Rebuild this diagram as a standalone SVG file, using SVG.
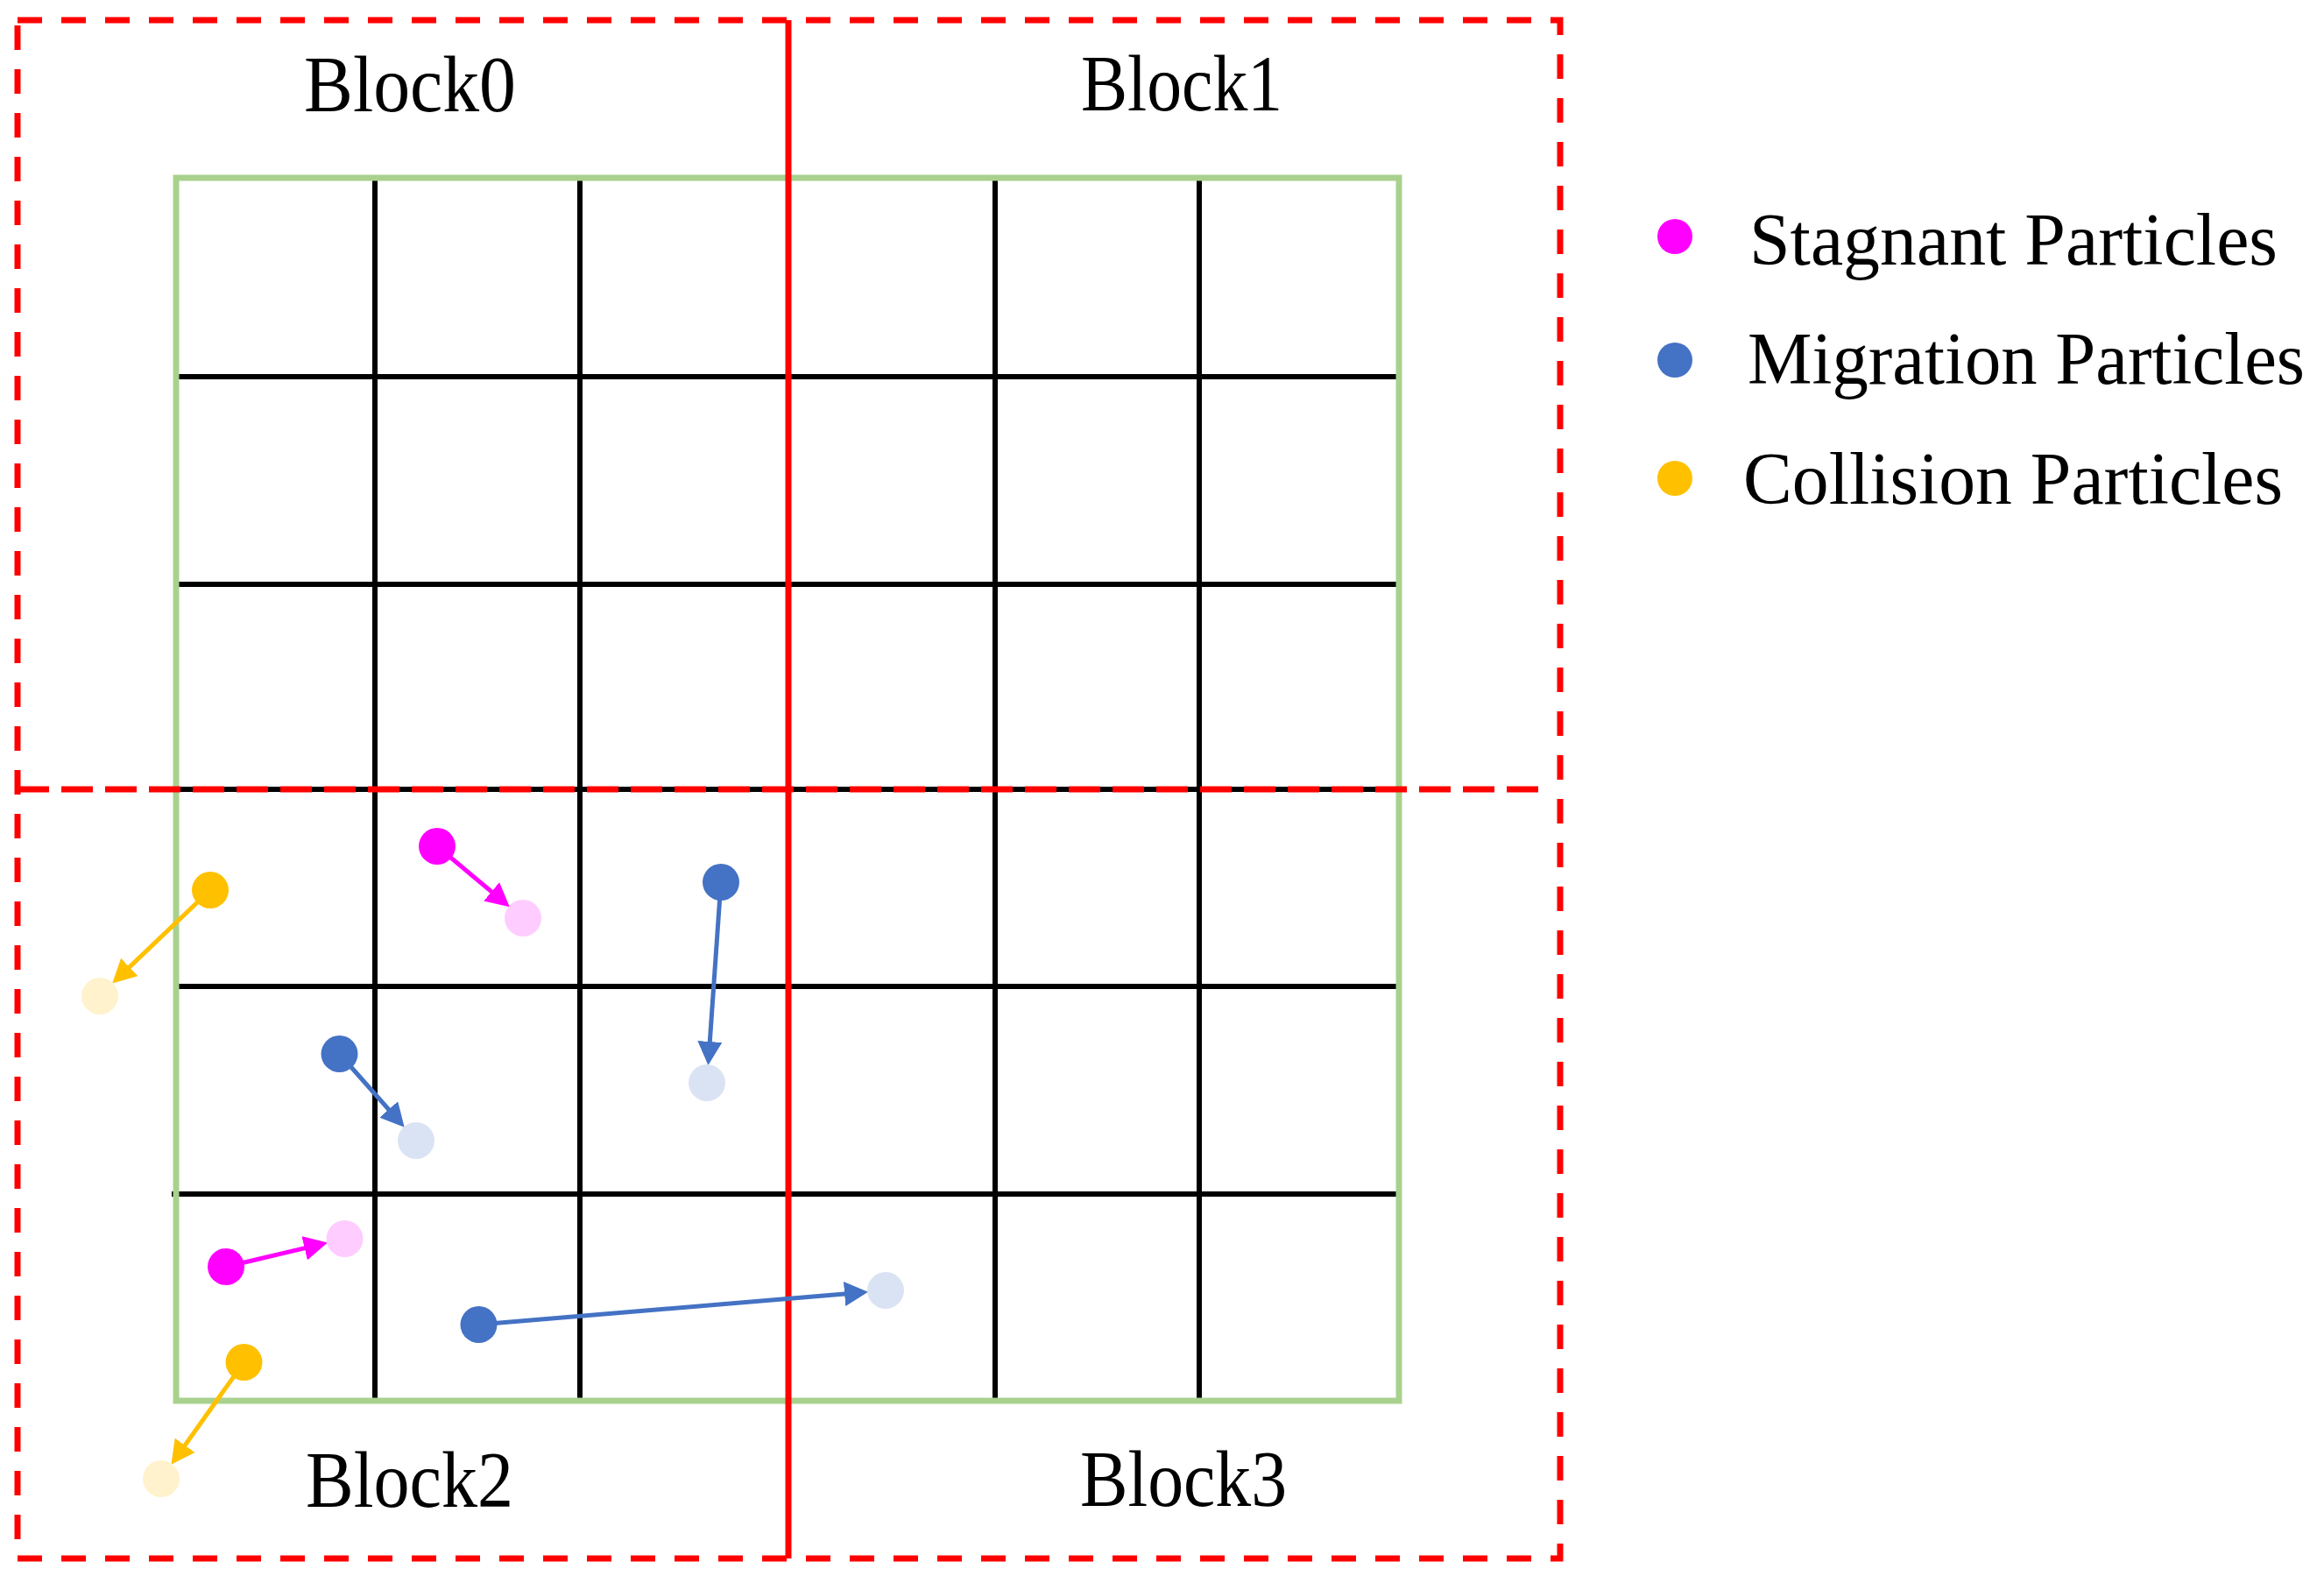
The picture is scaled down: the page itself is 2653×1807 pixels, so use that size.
<svg xmlns="http://www.w3.org/2000/svg" width="2653" height="1807" viewBox="0 0 2653 1807">
<style>
.grid{stroke:#000;stroke-width:6;fill:none}
.green{stroke:#A9D18E;stroke-width:7;fill:none}
.redsolid{stroke:#FF0000;stroke-width:7;fill:none}
.reddash{stroke:#FF0000;stroke-width:7;fill:none;stroke-dasharray:28 22}
.middash{stroke:#FF0000;stroke-width:7;fill:none;stroke-dasharray:36 14}
.lbl{font-family:"Liberation Serif","Times New Roman",serif;font-size:90px;fill:#000}
.leg{font-family:"Liberation Serif","Times New Roman",serif;font-size:84px;fill:#000}
.mag{fill:#FF00FF}.magl{fill:#FFCCFF}
.blu{fill:#4472C4}.blul{fill:#DAE3F3}
.yel{fill:#FFC000}.yell{fill:#FFF2CC}
.arr{stroke-width:5;fill:none}
</style>
<defs>
<marker id="amag" markerUnits="userSpaceOnUse" markerWidth="28" markerHeight="28" refX="6" refY="14" orient="auto"><path d="M0,0 L27,14 L0,28 Z" fill="#FF00FF"/></marker>
<marker id="ablu" markerUnits="userSpaceOnUse" markerWidth="28" markerHeight="28" refX="6" refY="14" orient="auto"><path d="M0,0 L27,14 L0,28 Z" fill="#4472C4"/></marker>
<marker id="ayel" markerUnits="userSpaceOnUse" markerWidth="28" markerHeight="28" refX="6" refY="14" orient="auto"><path d="M0,0 L27,14 L0,28 Z" fill="#FFC000"/></marker>
</defs>
<rect width="2653" height="1807" fill="#fff"/>
<g id="grid">
<line class="grid" x1="428" y1="203" x2="428" y2="1599"/>
<line class="grid" x1="662" y1="203" x2="662" y2="1599"/>
<line class="grid" x1="1136" y1="203" x2="1136" y2="1599"/>
<line class="grid" x1="1369" y1="203" x2="1369" y2="1599"/>
<line class="grid" x1="201" y1="430" x2="1597" y2="430"/>
<line class="grid" x1="201" y1="667" x2="1597" y2="667"/>
<line class="grid" x1="201" y1="901" x2="1597" y2="901"/>
<line class="grid" x1="201" y1="1126" x2="1597" y2="1126"/>
<line class="grid" x1="196" y1="1363" x2="1597" y2="1363"/>
<rect class="green" x="201" y="203" width="1396" height="1396"/>
</g>
<g id="blocks">
<rect class="reddash" x="20" y="23" width="1761" height="1756"/>
<line class="middash" x1="20" y1="901" x2="1768" y2="901"/>
<line class="redsolid" x1="900" y1="23" x2="900" y2="1779"/>
</g>
<g id="block-labels">
<text id="block0" class="lbl" x="347" y="127" textLength="242" lengthAdjust="spacingAndGlyphs">Block0</text>
<text id="block1" class="lbl" x="1234" y="126" textLength="230" lengthAdjust="spacingAndGlyphs">Block1</text>
<text id="block2" class="lbl" x="349" y="1720" textLength="237" lengthAdjust="spacingAndGlyphs">Block2</text>
<text id="block3" class="lbl" x="1233" y="1719" textLength="236" lengthAdjust="spacingAndGlyphs">Block3</text>
</g>
<g id="connectors">
<line class="arr" stroke="#FFC000" x1="240" y1="1016" x2="143.4" y2="1108.1" marker-end="url(#ayel)"/>
<line class="arr" stroke="#FF00FF" x1="499" y1="966" x2="565.7" y2="1021.7" marker-end="url(#amag)"/>
<line class="arr" stroke="#4472C4" x1="387.5" y1="1203" x2="447.7" y2="1271" marker-end="url(#ablu)"/>
<line class="arr" stroke="#4472C4" x1="823" y1="1007" x2="809.9" y2="1195" marker-end="url(#ablu)"/>
<line class="arr" stroke="#FF00FF" x1="258" y1="1446" x2="353.5" y2="1423.4" marker-end="url(#amag)"/>
<line class="arr" stroke="#4472C4" x1="546.5" y1="1512" x2="970.1" y2="1476.5" marker-end="url(#ablu)"/>
<line class="arr" stroke="#FFC000" x1="278.5" y1="1555" x2="207.6" y2="1654.7" marker-end="url(#ayel)"/>
</g>
<g id="particles">
<circle id="c1" class="yel" cx="240" cy="1016" r="21"/>
<circle id="c1t" class="yell" cx="114" cy="1137" r="21"/>
<circle id="s1" class="mag" cx="499" cy="966" r="21"/>
<circle id="s1t" class="magl" cx="597" cy="1048" r="21"/>
<circle id="m1" class="blu" cx="387.5" cy="1203" r="21"/>
<circle id="m1t" class="blul" cx="475" cy="1302" r="21"/>
<circle id="m2" class="blu" cx="823" cy="1007" r="21"/>
<circle id="m2t" class="blul" cx="807" cy="1236" r="21"/>
<circle id="s2" class="mag" cx="258" cy="1446" r="21"/>
<circle id="s2t" class="magl" cx="393.5" cy="1414" r="21"/>
<circle id="m3" class="blu" cx="546.5" cy="1512" r="21"/>
<circle id="m3t" class="blul" cx="1011" cy="1473" r="21"/>
<circle id="c2" class="yel" cx="278.5" cy="1555" r="21"/>
<circle id="c2t" class="yell" cx="184" cy="1688" r="21"/>
</g>
<g id="legend">
<g id="legend-stagnant"><circle class="mag" cx="1912" cy="270" r="20"/><text class="leg" x="1997" y="302" textLength="603" lengthAdjust="spacingAndGlyphs">Stagnant Particles</text></g>
<g id="legend-migration"><circle class="blu" cx="1912" cy="411" r="20"/><text class="leg" x="1995" y="438" textLength="636" lengthAdjust="spacingAndGlyphs">Migration Particles</text></g>
<g id="legend-collision"><circle class="yel" cx="1912" cy="546" r="20"/><text class="leg" x="1990" y="575" textLength="616" lengthAdjust="spacingAndGlyphs">Collision Particles</text></g>
</g>
</svg>
